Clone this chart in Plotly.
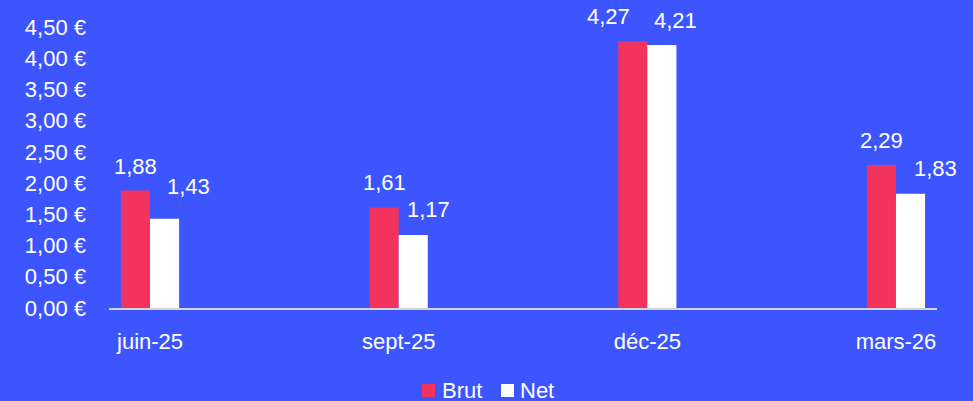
import plotly.graph_objects as go

categories = ["juin-25", "sept-25", "déc-25", "mars-26"]
brut = [1.88, 1.61, 4.27, 2.29]
net = [1.43, 1.17, 4.21, 1.83]
tick_vals = [0, 0.5, 1, 1.5, 2, 2.5, 3, 3.5, 4, 4.5]
tick_text = [f"{v:.2f}".replace(".", ",") + " €" for v in tick_vals]

# label nudges in pixels (styling, as placed in the original)
brut_dx = [0, 0, -24, 0]
brut_dy = [0, 0, 0, 0]
net_dx = [24, 15, 14, 25]
net_dy = [8, 1, 0, 1]

def fmt(v):
    return f"{v:.2f}".replace(".", ",")

BG = "#3D55FF"
RED = "#F2335E"
FONT = "Liberation Sans, Arial, sans-serif"

fig = go.Figure()
fig.add_trace(go.Bar(name="Brut", x=categories, y=brut,
                     marker=dict(color=RED, line=dict(width=0))))
fig.add_trace(go.Bar(name="Net", x=categories, y=net,
                     marker=dict(color="white", line=dict(width=0))))

for series, base, dxs, dys in ((brut, -14.5, brut_dx, brut_dy), (net, 14.5, net_dx, net_dy)):
    for c, v, dx, dy in zip(categories, series, dxs, dys):
        fig.add_annotation(x=c, y=v, text=fmt(v), showarrow=False, xshift=base + dx,
                           yshift=10 + dy, yanchor="bottom", xanchor="center",
                           font=dict(size=22, color="white", family=FONT))

# legend drawn as swatches + labels below the plot
W, H = 828.0, 281.0
def px(x):
    return (x - 109) / W
def py(y):
    return (308 - y) / H

for name, color, x0, tx in (("Brut", RED, 422, 440), ("Net", "white", 501, 518)):
    fig.add_shape(type="rect", xref="paper", yref="paper", x0=px(x0), x1=px(x0 + 13),
                  y0=py(397), y1=py(384), fillcolor=color, line=dict(width=0))
    fig.add_annotation(xref="paper", yref="paper", x=px(tx), y=py(390.5), text=name,
                       showarrow=False, xanchor="left", yanchor="middle",
                       font=dict(size=22, color="white", family=FONT))

fig.update_layout(
    width=973, height=401,
    paper_bgcolor=BG, plot_bgcolor=BG,
    margin=dict(l=109, r=36, t=27, b=93, autoexpand=False),
    barmode="group", bargap=0.766, bargroupgap=0,
    font=dict(family=FONT, color="white", size=22),
    showlegend=False,
    xaxis=dict(range=[-0.165, 3.165], showgrid=False, showline=True, linecolor="#D4D4D4",
               linewidth=2, ticks="", tickfont=dict(size=22, color="white"),
               ticklabelstandoff=13, zeroline=False, automargin=False, fixedrange=True),
    yaxis=dict(range=[0, 4.5], tickvals=tick_vals, ticktext=tick_text, showgrid=False,
               zeroline=False, showline=False, ticks="",
               tickfont=dict(size=22, color="white"), ticklabelstandoff=22,
               automargin=False, fixedrange=True),
)

fig.write_html("out.html", config={"displayModeBar": False},
               post_script="document.body.style.margin='0';document.body.style.background='" + BG + "';")
